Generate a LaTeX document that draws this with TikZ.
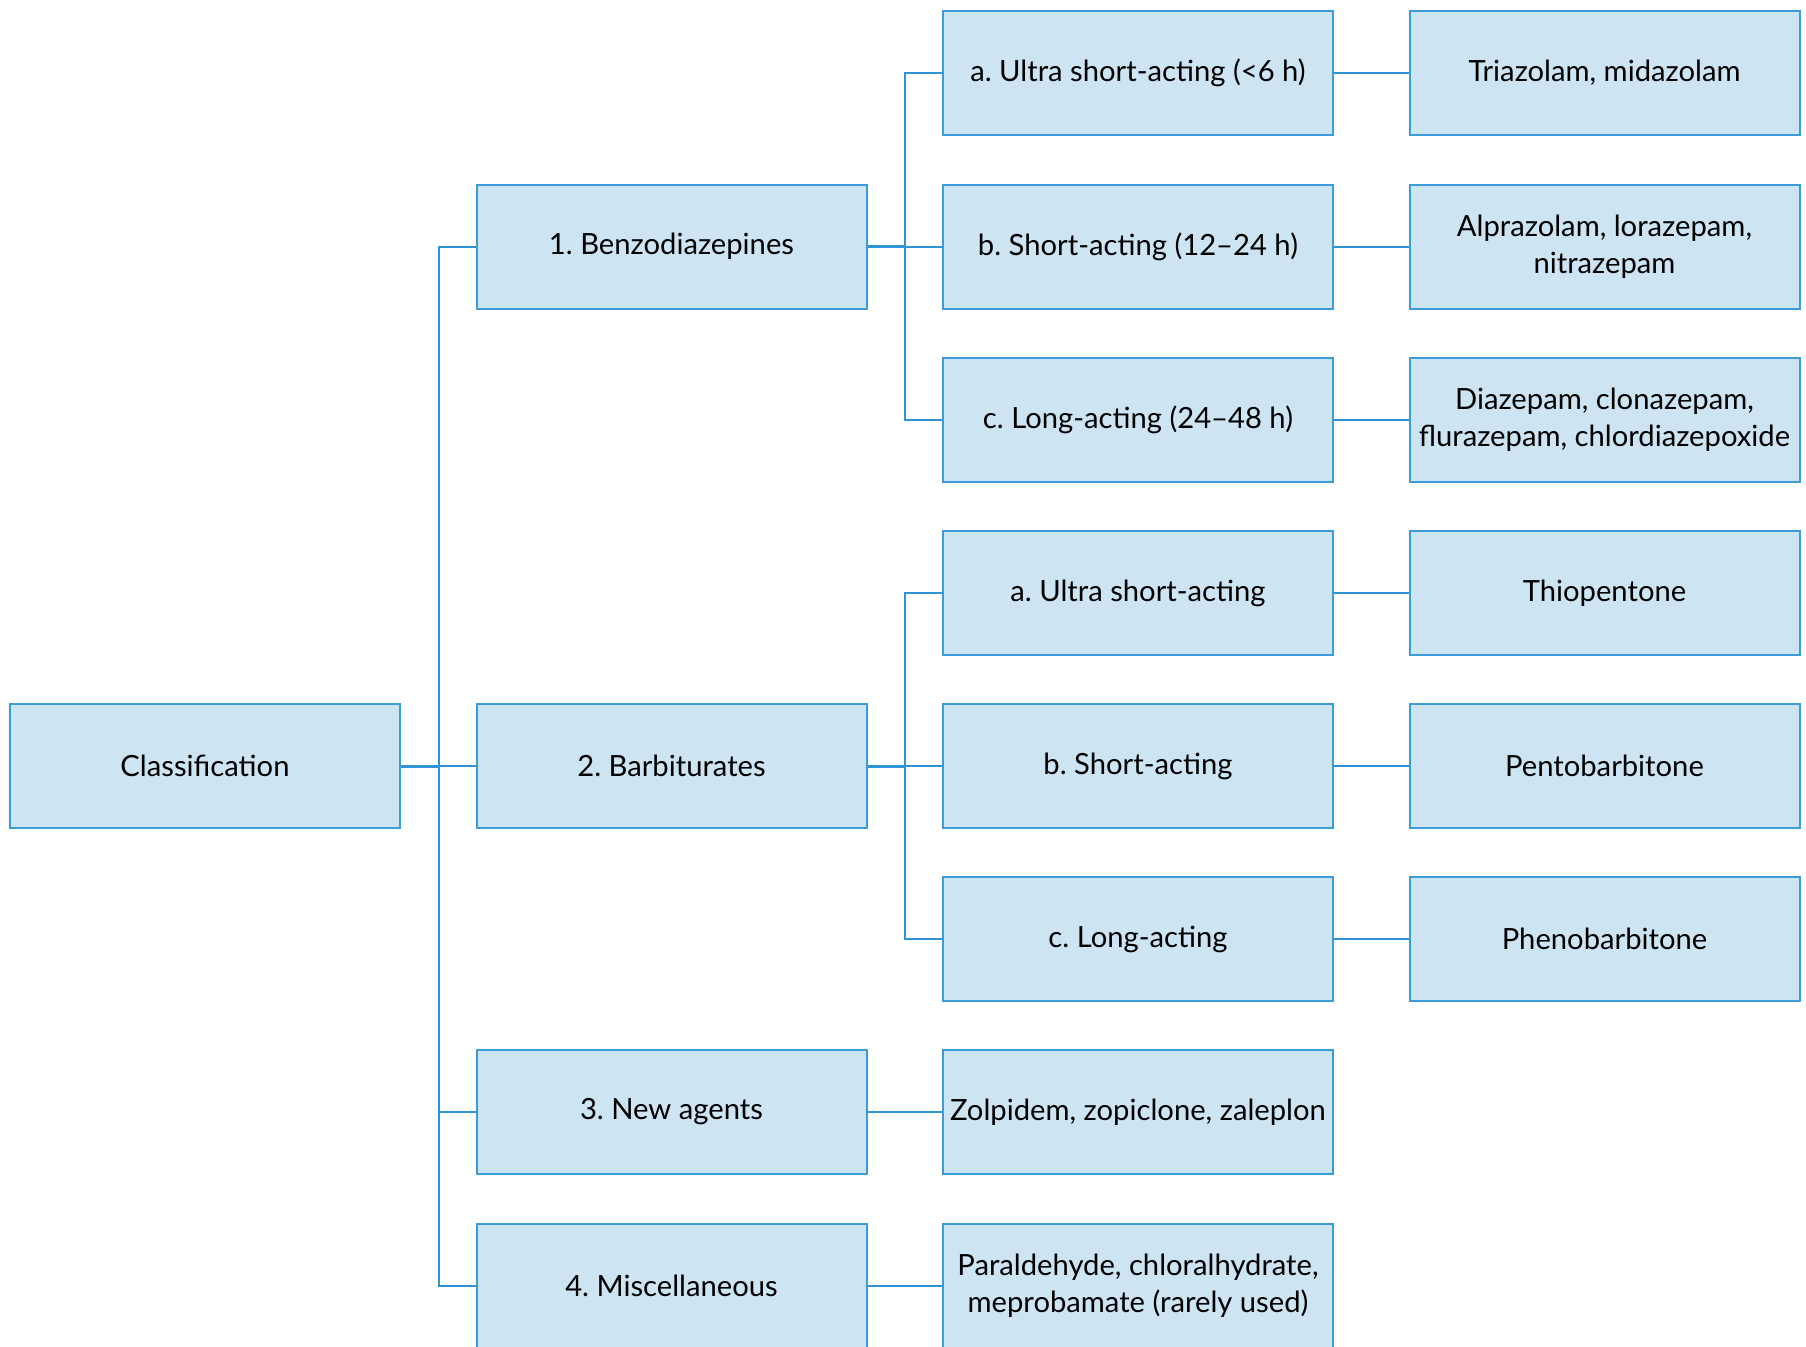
\documentclass[tikz,border=0pt]{standalone}
\usepackage{fontspec}
\setmainfont{Lato}
\frenchspacing
\definecolor{boxfill}{HTML}{CDE4F3}
\definecolor{boxline}{HTML}{3C9CDA}
\definecolor{linkblue}{HTML}{2F93D6}
\begin{document}
\begin{tikzpicture}[x=0.5pt,y=-0.5pt,
  box/.style={draw=boxline, fill=boxfill, line width=1pt,
    minimum width=195pt, minimum height=62pt, inner sep=0pt,
    align=center, font=\fontsize{14.6}{18.4}\selectfont},
  link/.style={draw=linkblue, line width=1pt},
  mainlink/.style={draw=linkblue, line width=1.5pt}]
\useasboundingbox (0,0) rectangle (1806,1346);
\begin{scope}
\clip (0,0) rectangle (1806,1346);
% column 1
\node[box] (cls) at (205,766) {Classification};
% column 2
\node[box] (benz) at (671.5,246.5) {1. Benzodiazepines};
\node[box] (barb) at (671.5,766) {2. Barbiturates};
\node[box] (newag) at (671.5,1112) {3. New agents};
\node[box] (misc) at (671.5,1286) {4. Miscellaneous};
% column 3
\node[box] (bza) at (1138,73) {a. Ultra short-acting (<6 h)};
\node[box] (bzb) at (1138,246.5) {b. Short-acting (12–24 h)};
\node[box] (bzc) at (1138,419.5) {c. Long-acting (24–48 h)};
\node[box] (bba) at (1138,593) {a. Ultra short-acting};
\node[box] (bbb) at (1138,766) {b. Short-acting};
\node[box] (bbc) at (1138,939) {c. Long-acting};
\node[box] (newex) at (1138,1112) {Zolpidem, zopiclone, zaleplon};
\node[box] (miscex) at (1138,1286) {Paraldehyde, chloralhydrate,\\meprobamate (rarely used)};
% column 4
\node[box] (exa) at (1604.5,73) {Triazolam, midazolam};
\node[box] (exb) at (1604.5,246.5) {Alprazolam, lorazepam,\\nitrazepam};
\node[box] (exc) at (1604.5,419.5) {Diazepam, clonazepam,\\flurazepam, chlordiazepoxide};
\node[box] (exd) at (1604.5,593) {Thiopentone};
\node[box] (exe) at (1604.5,766) {Pentobarbitone};
\node[box] (exf) at (1604.5,939) {Phenobarbitone};
\end{scope}
% trunk from the root
\coordinate (trunk) at (439,766);
\draw[mainlink] (cls.east) -- (trunk);
\draw[link] (benz.west) -| (trunk) |- (misc.west);
\foreach \n in {barb,newag} \draw[link] (trunk |- \n.west) -- (\n.west);
% benzodiazepine branch
\coordinate (bzt) at (905,246.5);
\draw[mainlink] (benz.east) -- (bzt);
\draw[link] (bza.west) -| (bzt) |- (bzc.west);
\draw[link] (bzt) -- (bzb.west);
% barbiturate branch
\coordinate (bbt) at (905,766);
\draw[mainlink] (barb.east) -- (bbt);
\draw[link] (bba.west) -| (bbt) |- (bbc.west);
\draw[link] (bbt) -- (bbb.west);
% examples
\draw[link] (newag.east) -- (newex.west);
\draw[link] (misc.east) -- (miscex.west);
\draw[link] (bza.east) -- (exa.west);
\draw[link] (bzb.east) -- (exb.west);
\draw[link] (bzc.east) -- (exc.west);
\draw[link] (bba.east) -- (exd.west);
\draw[link] (bbb.east) -- (exe.west);
\draw[link] (bbc.east) -- (exf.west);
\end{tikzpicture}
\end{document}
